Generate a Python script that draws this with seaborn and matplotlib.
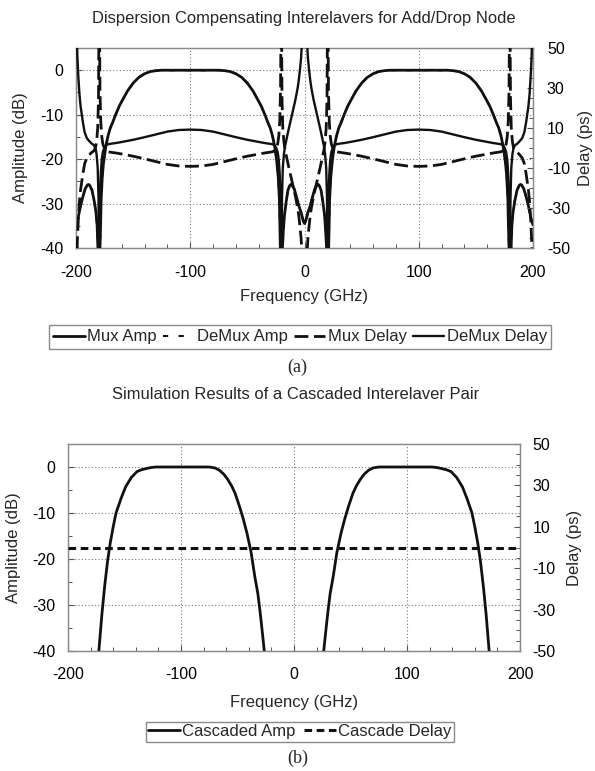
import numpy as np
import matplotlib
matplotlib.use("Agg")
import matplotlib.pyplot as plt
from matplotlib.ticker import MultipleLocator
import seaborn as sns

sns.set_theme(style="white")
plt.rcParams["font.family"] = ["Liberation Sans", "DejaVu Sans"]
plt.rcParams["axes.unicode_minus"] = False

# ---- panel (a): response is even in frequency, values read for 0..200 GHz ----
amp_freq = [0, 1, 2, 3, 5, 7, 9, 11, 12, 13, 14.5, 16, 17.5, 18.5, 19.5, 20.3, 21, 21.5,
            22, 23, 24.5, 26, 28, 30, 32, 35, 38, 40.5, 45, 50, 55, 60, 65, 70, 75, 80,
            90, 100, 110, 120, 125, 130, 135, 140, 145, 150, 155, 159.5, 162, 165, 168,
            170, 172, 174, 176, 177, 178, 178.5, 179.2, 180, 180.7, 181.5, 182.5, 184,
            186, 188, 189, 190, 192, 194, 196, 198, 199, 200]
mux_amp_db = [-34.5, -34, -33, -32, -30.5, -28.5, -26.7, -25.8, -25.7, -26, -27, -29.5,
              -32.5, -36, -41, -55, -42, -35, -29, -24, -20, -17.3, -14.8, -13, -11.8,
              -9.8, -8, -6.8, -4.7, -2.9, -1.6, -0.8, -0.3, -0.1, 0, 0, 0, 0, 0, 0, 0,
              -0.1, -0.3, -0.8, -1.6, -2.9, -4.7, -6.8, -8, -9.8, -11.8, -13, -14.8, -17.3,
              -21, -24, -29, -35, -42, -55, -41, -35, -32, -29.5, -27, -25.9, -25.7, -25.8,
              -26.7, -28.5, -30.5, -33, -34, -34.8]

delay_freq = [0, 1, 2, 3, 4, 5, 6, 8, 10, 12, 14, 15.5, 17, 18, 19, 19.7, 20.3, 21, 21.7,
              22.5, 23.5, 25, 26, 28, 30, 35, 40, 50, 60, 70, 80, 90, 100, 110, 120, 130,
              140, 150, 160, 165, 170, 172, 174, 175, 176.5, 177.5, 178.3, 179, 179.7,
              180.3, 181, 182, 183, 184.5, 186.3, 188.5, 190.6, 192.5, 194, 195, 196, 197,
              198, 198.8, 199.4, 200]
demux_delay_ps = [95, 72, 55, 45, 39, 34, 30, 24, 19, 14, 9, 5, 1, -3, -10, -25, -80, -28,
                  -13, -6, -2, 0.3, 1.2, 1.9, 2.1, 2.5, 3.0, 4.1, 5.4, 6.8, 8.2, 9.0, 9.2,
                  9.0, 8.2, 6.8, 5.4, 4.1, 3.0, 2.5, 2.1, 1.9, 1.2, 0.3, -2, -6, -13, -28,
                  -80, -25, -10, -3, 0, 1.5, 2.2, 3.5, 5, 8, 13, 17, 21, 27, 36, 46, 60, 90]
mux_delay_ps = [-95, -72, -55, -45, -39, -34, -30, -24, -19, -14, -9, -5, -1, 3, 10, 25, 80,
                28, 13, 6, 2, -0.3, -1.2, -1.9, -2.1, -2.5, -3.0, -4.1, -5.4, -6.8, -8.2,
                -9.0, -9.2, -9.0, -8.2, -6.8, -5.4, -4.1, -3.0, -2.5, -2.1, -1.9, -1.2,
                -0.3, 2, 6, 13, 28, 80, 25, 10, 3, 0, -1.5, -2.2, -3.5, -5, -8, -13, -17,
                -21, -27, -36, -46, -60, -90]

# ---- panel (b): cascaded pair, values read for 20..200 GHz (even response) ----
casc_freq = [20, 26.3, 28, 30, 32, 34.7, 38, 41.6, 45, 48.2, 52, 55, 58.4, 62, 66, 70, 75,
             100, 122, 126, 130, 135, 139, 144, 149, 153, 157.5, 160, 162.6, 165, 167.6,
             170, 172.7, 175, 180]
casc_amp_db = [-55, -40, -36, -31.5, -27.5, -23.8, -18.5, -14.4, -11.2, -8.6, -5.8, -4.2,
               -2.8, -1.6, -0.7, -0.2, 0, 0, 0, -0.1, -0.3, -0.6, -1.0, -2.3, -4.3, -6.8,
               -10, -13, -16.5, -20.5, -26, -32, -40, -47, -60]
casc_delay_freq = [-200, 200]
casc_delay_ps = [0, 0]

BLACK = "#111111"
EDGE = "#8a8a8a"


def mirror(f, v):
    f = np.asarray(f, float)
    v = np.asarray(v, float)
    if f[0] == 0:
        return np.concatenate([-f[:0:-1], f]), np.concatenate([v[:0:-1], v])
    return np.concatenate([-f[::-1], f]), np.concatenate([v[::-1], v])


def style_axes(ax, ax2, xpad, lpad, rpad):
    ax.set_xlim(-200, 200)
    ax.set_ylim(-40, 5)
    ax.set_xticks([-200, -100, 0, 100, 200])
    ax.set_yticks([0, -10, -20, -30, -40])
    ax.xaxis.set_minor_locator(MultipleLocator(20))
    ax.yaxis.set_minor_locator(MultipleLocator(5))
    ax2.set_ylim(-50, 50)
    ax2.set_yticks([50, 30, 10, -10, -30, -50])
    ax2.yaxis.set_minor_locator(MultipleLocator(5))
    ax.grid(True, which="major", color="#777777", linestyle=(0, (1, 2)), linewidth=0.8)
    for a in (ax, ax2):
        for s in a.spines.values():
            s.set_color(EDGE)
            s.set_linewidth(0.9)
        a.tick_params(which="both", direction="in", color="#555555", labelsize=11.5,
                      labelcolor="black")
        a.tick_params(which="major", length=4, width=0.8)
        a.tick_params(which="minor", length=3, width=0.7)
    ax.tick_params(axis="x", which="both", bottom=True, pad=xpad)
    ax.tick_params(axis="y", which="both", left=True, pad=lpad)
    ax2.tick_params(axis="y", which="both", right=True, pad=rpad)


def line(ax, f, v, lw, ls, zorder=3):
    sns.lineplot(x=f, y=v, ax=ax, color=BLACK, linewidth=lw, linestyle=ls,
                 estimator=None, sort=False, zorder=zorder)
    return ax.lines[-1]


fig = plt.figure(figsize=(5.95, 7.71), dpi=100)

# ---------------- panel (a) ----------------
ax1 = fig.add_axes([76 / 595, 1 - 248 / 771, 457 / 595, 200 / 771])
ax1b = ax1.twinx()
style_axes(ax1, ax1b, xpad=12.5, lpad=9, rpad=10)

fa, va = mirror(amp_freq, mux_amp_db)
h_demux_amp = line(ax1, fa, va, 1.5, (0, (2.5, 5)), zorder=2)
h_mux_amp = line(ax1, fa, va, 2.0, "-", zorder=3)
fd, vd = mirror(delay_freq, demux_delay_ps)
h_demux_delay = line(ax1b, fd, vd, 1.7, "-")
fm, vm = mirror(delay_freq, mux_delay_ps)
h_mux_delay = line(ax1b, fm, vm, 2.0, (0, (5, 2)))

ax1.set_xlabel("Frequency (GHz)", fontsize=12)
ax1.set_ylabel("Amplitude (dB)", fontsize=12)
ax1b.set_ylabel("Delay (ps)", fontsize=12)
ax1.xaxis.set_label_coords(0.5, -0.205)
ax1.yaxis.set_label_coords(-0.104, 0.5)
ax1b.yaxis.set_label_coords(1.0985, 0.5)

fig.text(0.51, 1 - 18 / 771, "Dispersion Compensating Interelavers for Add/Drop Node",
         ha="center", va="center", fontsize=11.9)
fig.legend([h_mux_amp, h_demux_amp, h_mux_delay, h_demux_delay],
           ["Mux Amp", "DeMux Amp", "Mux Delay", "DeMux Delay"],
           loc="center", bbox_to_anchor=(300 / 595, 1 - 337 / 771), ncol=4,
           fontsize=12, frameon=True, fancybox=False, edgecolor=EDGE, framealpha=1,
           handlelength=1.9, handletextpad=0.15, columnspacing=0.35, borderpad=0.25,
           borderaxespad=0)
fig.text(0.5, 1 - 367 / 771, "(a)", ha="center", va="center", fontsize=13,
         family=["Liberation Serif", "DejaVu Serif"])

# ---------------- panel (b) ----------------
ax3 = fig.add_axes([68 / 595, 1 - 651 / 771, 452 / 595, 207 / 771])
ax3b = ax3.twinx()
style_axes(ax3, ax3b, xpad=11.5, lpad=9, rpad=9)

fc, vc = mirror(casc_freq, casc_amp_db)
h_casc_amp = line(ax3, fc, vc, 2.0, "-")
h_casc_delay = line(ax3b, casc_delay_freq, casc_delay_ps, 2.2, (0, (2.5, 1.5)))

ax3.set_xlabel("Frequency (GHz)", fontsize=12)
ax3.set_ylabel("Amplitude (dB)", fontsize=12)
ax3b.set_ylabel("Delay (ps)", fontsize=12)
ax3.xaxis.set_label_coords(0.5, -0.2126)
ax3.yaxis.set_label_coords(-0.104, 0.5)
ax3b.yaxis.set_label_coords(1.103, 0.5)

fig.text(0.496, 1 - 395 / 771, "Simulation Results of a Cascaded Interelaver Pair",
         ha="center", va="center", fontsize=11.9)
fig.legend([h_casc_amp, h_casc_delay], ["Cascaded Amp", "Cascade Delay"],
           loc="center", bbox_to_anchor=(300 / 595, 1 - 731.5 / 771), ncol=2,
           fontsize=12, frameon=True, fancybox=False, edgecolor=EDGE, framealpha=1,
           handlelength=1.9, handletextpad=0.15, columnspacing=0.5, borderpad=0.15,
           borderaxespad=0)
fig.text(0.5, 1 - 758 / 771, "(b)", ha="center", va="center", fontsize=13,
         family=["Liberation Serif", "DejaVu Serif"])

fig.savefig("out.png", dpi=100)
plt.close(fig)
